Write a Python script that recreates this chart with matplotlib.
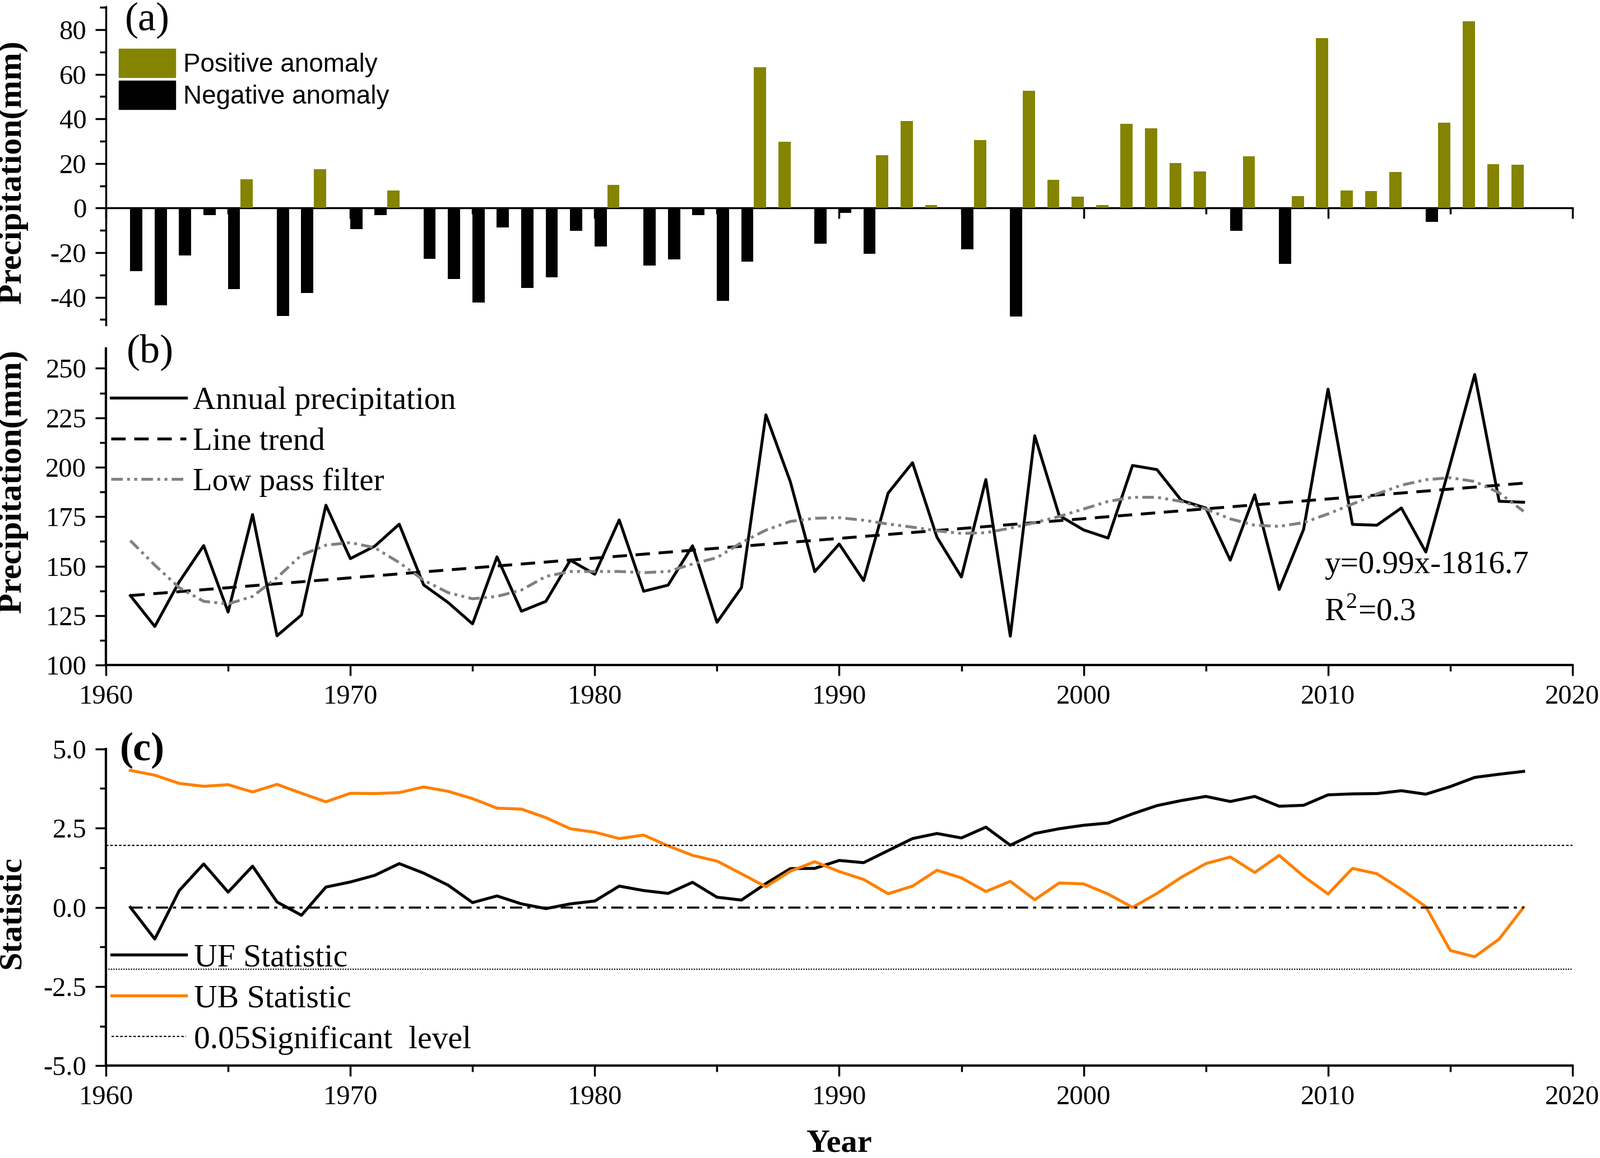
import numpy as np
import matplotlib
matplotlib.use('Agg')
import matplotlib.pyplot as plt
from matplotlib.ticker import MultipleLocator, FormatStrFormatter
from matplotlib.patches import Patch

plt.rcParams['font.family'] = ['Liberation Serif', 'DejaVu Serif']
plt.rcParams['axes.unicode_minus'] = False
plt.rcParams['mathtext.fontset'] = 'custom'
plt.rcParams['mathtext.rm'] = 'Liberation Serif'

years = np.arange(1961, 2019)

# (a) precipitation anomaly (mm)
anomaly = [-28.4, -43.5, -21.2, -3.1, -36.3, 12.9, -48.3, -38.1, 17.5, -9.4,
           -3.1, 8.0, -22.7, -31.7, -42.3, -8.7, -35.8, -31.1, -10.3, -17.3,
           10.3, -25.8, -23.0, -3.1, -41.5, -24.1, 63.2, 29.7, -15.9, -2.2,
           -20.5, 23.8, 39.1, 1.4, -18.6, 30.6, -48.6, 52.6, 12.7, 5.2,
           1.3, 37.8, 35.7, 20.2, 16.5, -10.3, 23.1, -25.0, 5.5, 76.3,
           8.0, 7.6, 16.3, -6.3, 38.4, 83.8, 19.6, 19.4]

# (b) annual precipitation and low pass filter (mm)
precip = [135.1, 119.5, 142.1, 160.4, 126.8, 176.1, 114.8, 125.3, 180.8, 153.8,
          160.1, 171.2, 140.5, 131.6, 120.8, 154.7, 127.2, 132.2, 153.0, 145.9,
          173.4, 137.3, 140.4, 160.3, 121.6, 139.1, 226.5, 192.7, 147.2, 161.2,
          142.7, 186.9, 202.3, 164.6, 144.5, 193.8, 114.6, 215.9, 175.6, 168.3,
          164.2, 200.9, 198.8, 183.2, 179.4, 153.0, 186.1, 138.2, 168.6, 239.5,
          171.1, 170.7, 179.4, 157.1, 201.7, 246.9, 182.8, 182.3]
lowpass = [162.9, 150.5, 139.1, 132.2, 130.9, 134.7, 144.2, 155.6, 160.6, 161.9,
           159.3, 151.8, 142.9, 136.6, 133.5, 134.7, 137.9, 144.8, 147.3, 147.3,
           147.3, 146.7, 147.3, 151.1, 154.3, 161.9, 168.2, 172.6, 174.2, 174.5,
           173.2, 171.3, 169.7, 167.9, 166.5, 166.9, 169.2, 172.0, 175.1, 178.9,
           182.7, 184.8, 184.8, 182.7, 178.9, 173.9, 170.7, 170.1, 172.0, 176.4,
           181.4, 186.5, 190.9, 193.7, 194.7, 192.8, 187.1, 177.7]

# (c) Mann-Kendall statistics
uf = [0.0, -1.00, 0.53, 1.37, 0.48, 1.30, 0.17, -0.25, 0.64, 0.80,
      1.01, 1.38, 1.08, 0.70, 0.15, 0.36, 0.11, -0.04, 0.11, 0.20,
      0.67, 0.53, 0.44, 0.79, 0.32, 0.23, 0.75, 1.22, 1.23, 1.48,
      1.41, 1.79, 2.17, 2.33, 2.19, 2.53, 1.96, 2.33, 2.48, 2.59,
      2.66, 2.95, 3.21, 3.37, 3.50, 3.34, 3.50, 3.19, 3.22, 3.55,
      3.58, 3.59, 3.68, 3.57, 3.81, 4.10, 4.20, 4.29]
ub = [4.32, 4.17, 3.91, 3.82, 3.87, 3.64, 3.88, 3.60, 3.33, 3.60,
      3.59, 3.62, 3.80, 3.66, 3.43, 3.13, 3.10, 2.83, 2.48, 2.37,
      2.17, 2.28, 1.94, 1.64, 1.46, 1.06, 0.65, 1.14, 1.44, 1.13,
      0.88, 0.43, 0.67, 1.17, 0.93, 0.50, 0.82, 0.24, 0.77, 0.74,
      0.42, 0.00, 0.44, 0.95, 1.38, 1.59, 1.10, 1.64, 0.98, 0.42,
      1.23, 1.06, 0.57, 0.02, -1.36, -1.56, -1.00, 0.00]
sig_level = 1.96

olive = '#848400'
orange = '#FF8000'
gray = '#808080'

fig = plt.figure(figsize=(28.55, 20.67), dpi=100)
ax_a = fig.add_axes([0.0662, 0.7194, 0.9166, 0.2750])
ax_b = fig.add_axes([0.0662, 0.4257, 0.9166, 0.2733])
ax_c = fig.add_axes([0.0662, 0.0796, 0.9166, 0.2737])


def style(ax):
    for s in ['top', 'right']:
        ax.spines[s].set_visible(False)
    for s in ['left', 'bottom']:
        ax.spines[s].set_linewidth(3)
    ax.tick_params(which='major', direction='out', length=14, width=2.5,
                   labelsize=35, pad=11)
    ax.tick_params(which='minor', direction='out', length=8, width=2.5)
    ax.set_xlim(1960, 2020)
    ax.xaxis.set_major_locator(MultipleLocator(10))
    ax.xaxis.set_minor_locator(MultipleLocator(5))


for ax in (ax_a, ax_b, ax_c):
    style(ax)

# ---- (a) anomaly bars
anom = np.array(anomaly)
pos = anom > 0
ax_a.bar(years[pos] - 0.24, anom[pos], width=0.5, color=olive, zorder=3)
ax_a.bar(years[~pos] + 0.24, anom[~pos], width=0.5, color='black', zorder=3)
ax_a.set_ylim(-52.4, 90.4)
ax_a.yaxis.set_major_locator(MultipleLocator(20))
ax_a.yaxis.set_minor_locator(MultipleLocator(10))
ax_a.spines['bottom'].set_position(('data', 0))
ax_a.spines['bottom'].set_linewidth(2.5)
ax_a.spines['left'].set_linewidth(2.5)
ax_a.tick_params(axis='x', labelbottom=False)
ax_a.set_ylabel('Precipitation(mm)', fontsize=43, fontweight='bold')
ax_a.yaxis.set_label_coords(-0.053, 0.48)
hand_a = [Patch(color=olive), Patch(color='black')]
ax_a.legend(hand_a, ['Positive anomaly', 'Negative anomaly'],
            loc='upper left', bbox_to_anchor=(0.0088, 0.868), frameon=False,
            prop={'family': 'Liberation Sans', 'size': 33},
            handlelength=2.2, handleheight=1.35, handletextpad=0.3,
            labelspacing=0.12, borderpad=0, borderaxespad=0)

# ---- (b) annual precipitation
coef = np.polyfit(years, precip, 1)
ax_b.plot(years, precip, color='black', lw=3.7, label='Annual precipitation')
ax_b.plot(years, np.polyval(coef, years), color='black', lw=3.7,
          ls=(0, (5, 3)), label='Line trend')
ax_b.plot(years, lowpass, color=gray, lw=3.7,
          ls=(0, (4, 1.5, 1, 1.5, 1, 1.5)), label='Low pass filter')
ax_b.set_ylim(100, 260)
ax_b.yaxis.set_major_locator(MultipleLocator(25))
ax_b.yaxis.set_minor_locator(MultipleLocator(12.5))
ax_b.set_ylabel('Precipitation(mm)', fontsize=43, fontweight='bold')
ax_b.yaxis.set_label_coords(-0.053, 0.58)
ax_b.legend(loc='upper left', bbox_to_anchor=(0.0034, 0.88), frameon=False,
            fontsize=41, handlelength=2.35, handletextpad=0.22,
            labelspacing=0.36, borderpad=0, borderaxespad=0)
ax_b.text(0.8277, 0.512, 'y=0.99x-1816.7', transform=fig.transFigure,
          fontsize=41, va='center')
ax_b.text(0.8277, 0.4712, r'R$^{2}$=0.3', transform=fig.transFigure,
          fontsize=41, va='center')

# ---- (c) Mann-Kendall test
ax_c.plot(years, uf, color='black', lw=3.8, label='UF Statistic')
ax_c.plot(years, ub, color=orange, lw=3.8, label='UB Statistic')
ax_c.axhline(sig_level, color='black', lw=1.6, ls=(0, (2, 1.5)),
             label='0.05Significant  level')
ax_c.axhline(-sig_level, color='black', lw=1.6, ls=(0, (1, 1)))
ax_c.hlines(0, years[0], years[-1], colors='black', lw=2.6,
            linestyles=(0, (6, 2.5, 1.5, 2.5)))
ax_c.set_ylim(-5, 5)
ax_c.yaxis.set_major_locator(MultipleLocator(2.5))
ax_c.yaxis.set_minor_locator(MultipleLocator(1.25))
ax_c.yaxis.set_major_formatter(FormatStrFormatter('%.1f'))
ax_c.set_ylabel('Statistic', fontsize=42, fontweight='bold')
ax_c.yaxis.set_label_coords(-0.054, 0.485)
ax_c.set_xlabel('Year', fontsize=42, fontweight='bold')
ax_c.xaxis.set_label_coords(0.5, -0.2)
ax_c.legend(loc='lower left', bbox_to_anchor=(0.004, 0.035), frameon=False,
            fontsize=41.5, handlelength=2.3, handletextpad=0.25,
            labelspacing=0.36, borderpad=0, borderaxespad=0)

# panel letters
fig.text(0.0781, 0.9826, '(a)', fontsize=52, va='center')
fig.text(0.0792, 0.6957, '(b)', fontsize=52, va='center')
fig.text(0.0750, 0.3522, '(c)', fontsize=52, va='center', fontweight='bold')

fig.savefig('out.png', dpi=100)
plt.close()
